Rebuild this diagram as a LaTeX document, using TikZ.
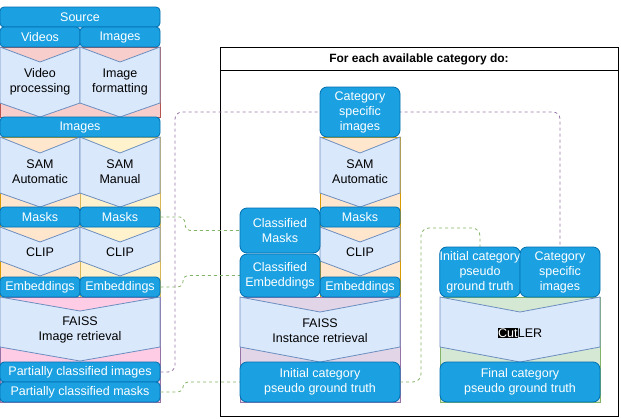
\documentclass[tikz,border=0pt]{standalone}
\usepackage{fontspec}
\setmainfont{Liberation Sans}
\definecolor{bfill}{HTML}{1BA1E2}
\definecolor{bdraw}{HTML}{006EAF}
\definecolor{cfill}{HTML}{DAE8FC}
\definecolor{cdraw}{HTML}{6C8EBF}
\definecolor{redf}{HTML}{F8CECC}\definecolor{redd}{HTML}{B85450}
\definecolor{orf}{HTML}{FFE6CC}\definecolor{ord}{HTML}{D79B00}
\definecolor{yef}{HTML}{FFF2CC}\definecolor{yed}{HTML}{D6B656}
\definecolor{pkf}{HTML}{FFCCE6}\definecolor{pkd}{HTML}{9673A6}
\definecolor{puf}{HTML}{E1D5E7}
\definecolor{grf}{HTML}{D5E8D4}\definecolor{grd}{HTML}{82B366}
\newcommand\mychev[6]{\filldraw[chev] (#1,#3) -- ({(#1+#2)/2},#4) -- (#2,#3) -- (#2,#5) -- ({(#1+#2)/2},#6) -- (#1,#5) -- cycle;}
\begin{document}
\begin{tikzpicture}[x=1pt,y=-1pt,
  txt/.style={font=\fontsize{12.5}{15}\selectfont, align=center, inner sep=0pt},
  bluebox/.style={txt, draw=bdraw, fill=bfill, text=white, rounded corners=4pt, line width=0.8pt},
  chev/.style={fill=cfill, draw=cdraw, line width=0.8pt},
  bg/.style={line width=0.8pt},
  pdash/.style={draw=pkd, dash pattern=on 3pt off 3pt, line width=0.8pt, rounded corners=7pt},
  gdash/.style={draw=grd, dash pattern=on 3pt off 3pt, line width=0.8pt, rounded corners=4pt},
  ctext/.style={txt, text=black}]
\useasboundingbox (0,0) rectangle (621,418);
% frame
\draw[line width=0.8pt] (220,47) rectangle (618,416);
\draw[line width=0.8pt] (220,70.5) -- (618,70.5);
\node[txt, font=\fontsize{12}{15}\selectfont\bfseries] (title) at (419,59) {For each available category do:};
% background regions
\filldraw[bg, fill=redf, draw=redd] (0,47) rectangle (160,117);
\filldraw[bg, fill=orf, draw=ord] (0,137) rectangle (80,297);
\filldraw[bg, fill=yef, draw=yed] (80,137) rectangle (160,297);
\filldraw[bg, fill=pkf, draw=pkd] (0,297) rectangle (160,402);
\filldraw[bg, fill=orf, draw=ord] (320,137) rectangle (400,297);
\filldraw[bg, fill=puf, draw=pkd] (240,297) rectangle (400,402);
\filldraw[bg, fill=grf, draw=grd] (440,297) rectangle (600,402);
% chevrons
\mychev{0}{80}{47}{62}{103}{117}
\mychev{80}{160}{47}{62}{103}{117}
\mychev{0}{80}{137}{153}{193}{207}
\mychev{80}{160}{137}{153}{193}{207}
\mychev{0}{80}{227}{242}{261}{276}
\mychev{80}{160}{227}{242}{261}{276}
\mychev{0}{160}{297}{311}{347}{361}
\mychev{320}{400}{137}{153}{193}{207}
\mychev{320}{400}{227}{242}{261}{276}
\mychev{240}{400}{297}{312}{347}{362}
\mychev{440}{600}{297}{312}{347}{362}
\node[ctext] (vp) at (40,82) {Video\\processing};
\node[ctext] (imf) at (120,82) {Image\\formatting};
\node[ctext] (sa) at (40,172) {SAM\\Automatic};
\node[ctext] (sm) at (120,172) {SAM\\Manual};
\node[ctext] (clip1) at (40,252) {CLIP};
\node[ctext] (clip2) at (120,252) {CLIP};
\node[ctext] (faiss1) at (80,330) {FAISS\\Image retrieval};
\node[ctext] (sa2) at (360,172) {SAM\\Automatic};
\node[ctext] (clip3) at (360,252) {CLIP};
\node[ctext] (faiss2) at (320,331) {FAISS\\Instance retrieval};
\node[ctext] (cutler) at (520,333) {{\setlength\fboxsep{0.3pt}\colorbox{black}{\textcolor{white}{Cut}}}LER};
% blue boxes (left)
\node[bluebox, minimum width=160pt, minimum height=20pt] (src) at (80,17) {Source};
\node[bluebox, minimum width=80pt, minimum height=20pt] (vid) at (40,37) {Videos};
\node[bluebox, minimum width=80pt, minimum height=20pt] (img) at (120,37) {Images};
\node[bluebox, minimum width=160pt, minimum height=20pt] (imgs) at (80,127) {Images};
\node[bluebox, minimum width=80pt, minimum height=20pt] (m1) at (40,217) {Masks};
\node[bluebox, minimum width=80pt, minimum height=20pt] (m2) at (120,217) {Masks};
\node[bluebox, minimum width=80pt, minimum height=20pt] (e1) at (40,287) {Embeddings};
\node[bluebox, minimum width=80pt, minimum height=20pt] (e2) at (120,287) {Embeddings};
\node[bluebox, minimum width=160pt, minimum height=20pt] (pci) at (80,372) {Partially classified images};
\node[bluebox, minimum width=160pt, minimum height=20pt] (pcm) at (80,392) {Partially classified masks};
% connectors (under the middle boxes)
\draw[pdash] (pci.east) -- (175,372) -- (175,112) -- (560,112) -- (560,247);
\draw[gdash] (m2.east) -- (184,217) -- (186,230.5) -- (240,230.5);
\draw[gdash] (e2.east) -- (182,287) -- (184,275.5) -- (240,275.5);
\draw[gdash] (pcm.east) -- (182,392) -- (184,382) -- (240,382);
\draw[gdash, rounded corners=8pt] (400,382) -- (421,382) -- (421,228) -- (480,228) -- (480,247);
% blue boxes (middle)
\node[bluebox, rounded corners=7pt, minimum width=80pt, minimum height=50pt] (csi) at (360,112) {Category\\specific\\images};
\node[bluebox, minimum width=80pt, minimum height=20pt] (mm) at (360,217) {Masks};
\node[bluebox, minimum width=80pt, minimum height=20pt] (me) at (360,287) {Embeddings};
\node[bluebox, rounded corners=7pt, minimum width=80pt, minimum height=45pt] (cm) at (280,230.5) {Classified\\Masks};
\node[bluebox, rounded corners=7pt, minimum width=80pt, minimum height=43pt] (ce) at (280,275.5) {Classified\\Embeddings};
\node[bluebox, rounded corners=7pt, minimum width=160pt, minimum height=40pt] (ini) at (320,382) {Initial category\\pseudo ground truth};
% blue boxes (right)
\node[bluebox, rounded corners=7pt, minimum width=80pt, minimum height=50pt] (ini2) at (480,272) {Initial category\\pseudo\\ground truth};
\node[bluebox, rounded corners=7pt, minimum width=80pt, minimum height=50pt] (csi2) at (560,272) {Category\\specific\\images};
\node[bluebox, rounded corners=7pt, minimum width=160pt, minimum height=40pt] (fin) at (520,382) {Final category\\pseudo ground truth};
\end{tikzpicture}
\end{document}
